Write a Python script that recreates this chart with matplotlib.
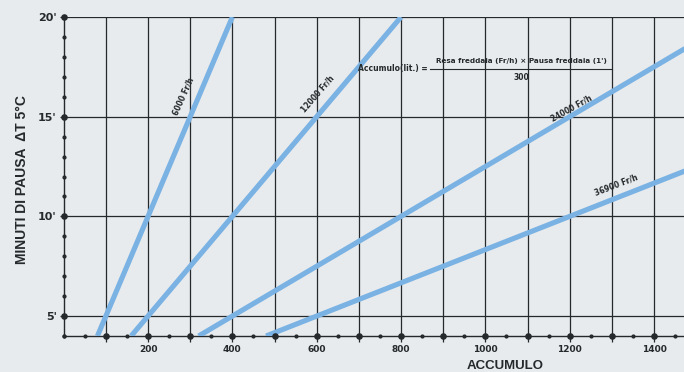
import matplotlib.pyplot as plt
import numpy as np

# rate lines: accumulo (lit.) at start (4') and end (20')
rates = ["6000 Fr/h", "12000 Fr/h", "24000 Fr/h", "36900 Fr/h"]
x_start = [80, 160, 320, 480]
x_end = [400, 800, 1600, 2400]
y_start = [4, 4, 4, 4]
y_end = [20, 20, 20, 20]

# label placement (data coords) and angle on screen
lab_x = [285, 602, 1205, 1310]
lab_y = [16.0, 16.15, 15.4, 11.55]
lab_rot = [66, 49, 29, 21]

xticks = [200, 400, 600, 800, 1000, 1200, 1400]
yticks = [5, 10, 15, 20]
ytick_labels = ["5'", "10'", "15'", "20'"]

paper = "#e8ebee"
ink = "#26292b"
blue = "#7ab2e3"

fig = plt.figure(figsize=(6.84, 3.72), dpi=100, facecolor=paper)
ax = fig.add_axes([63.7 / 684, 36 / 372, 620.3 / 684, 319 / 372])
ax.set_facecolor(paper)
ax.set_xlim(0, 1471)
ax.set_ylim(4, 20)

# grid
for gx in range(100, 1500, 100):
    ax.axvline(gx, color=ink, lw=0.9, zorder=1)
for gy in yticks:
    ax.axhline(gy, color=ink, lw=0.9, zorder=1)

for s in ["top", "right"]:
    ax.spines[s].set_visible(False)
for s in ["left", "bottom"]:
    ax.spines[s].set_color(ink)
    ax.spines[s].set_linewidth(1.0)

# dots along the axes
ax.scatter(np.zeros(17), np.arange(4, 21), s=4, color=ink, clip_on=False, zorder=4)
ax.scatter(np.zeros(4), yticks, s=14, color=ink, clip_on=False, zorder=4)
ax.scatter(np.arange(0, 1500, 50), np.full(30, 4), s=4, color=ink, clip_on=False, zorder=4)
ax.scatter(np.arange(100, 1500, 100), np.full(14, 4), s=14, color=ink, clip_on=False, zorder=4)

for i in range(len(rates)):
    ax.plot([x_start[i], x_end[i]], [y_start[i], y_end[i]], color=blue, lw=3.7,
            solid_capstyle="butt", zorder=3)
    ax.text(lab_x[i], lab_y[i], rates[i], rotation=lab_rot[i], fontsize=5.5,
            fontweight="bold", color=ink, ha="center", va="center",
            rotation_mode="anchor", zorder=5)

ax.set_xticks(range(100, 1500, 100))
ax.set_xticklabels([str(v) if v in xticks else "" for v in range(100, 1500, 100)])
ax.set_yticks(yticks)
ax.set_yticklabels(ytick_labels)
ax.tick_params(axis="x", direction="out", length=4, width=0.9, color=ink, pad=2.5,
               labelsize=6.5, labelcolor=ink)
ax.tick_params(axis="y", direction="out", length=3, width=0.9, color=ink, pad=2,
               labelsize=8, labelcolor=ink)
for t in ax.get_xticklabels() + ax.get_yticklabels():
    t.set_fontweight("bold")

fig.text(22 / 684, 1 - 180 / 372, "MINUTI DI PAUSA  \u0394T 5\u00b0C", rotation=90,
         ha="center", va="center", fontsize=10, fontweight="bold", color=ink,
         family="Liberation Sans")
fig.text(505 / 684, 1 - 366 / 372, "ACCUMULO", ha="center", va="center",
         fontsize=9.5, fontweight="bold", color=ink, family="Liberation Sans")

# formula
fig.text(428 / 684, 1 - 69 / 372, "Accumulo(lit.) =", ha="right", va="center",
         fontsize=5.5, fontweight="bold", color=ink)
fig.text(521 / 684, 1 - 61 / 372, "Resa freddaia (Fr/h) \u00d7 Pausa freddaia (1')",
         ha="center", va="center", fontsize=5.2, fontweight="bold", color=ink)
fig.lines.append(plt.Line2D([430 / 684, 612 / 684], [1 - 69 / 372, 1 - 69 / 372],
                            transform=fig.transFigure, color=ink, lw=0.8))
fig.text(521 / 684, 1 - 78 / 372, "300", ha="center", va="center",
         fontsize=5.5, fontweight="bold", color=ink)

fig.savefig("out.png", dpi=100, facecolor=paper)
